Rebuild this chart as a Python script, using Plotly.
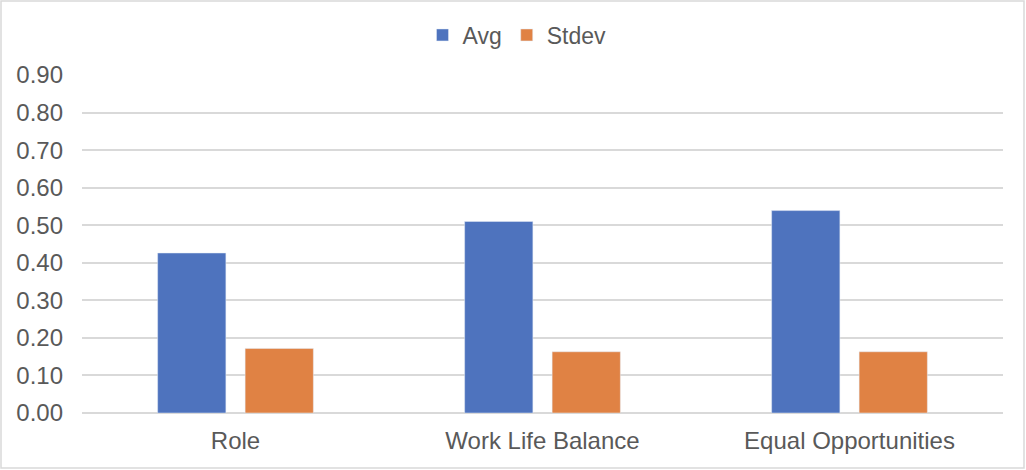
import plotly.graph_objects as go

categories = ["Role", "Work Life Balance", "Equal Opportunities"]
avg_values = [0.426, 0.510, 0.539]
stdev_values = [0.172, 0.163, 0.163]
tick_vals = [0.0, 0.1, 0.2, 0.3, 0.4, 0.5, 0.6, 0.7, 0.8, 0.9]
tick_text = [f"{v:.2f}" for v in tick_vals]

W, H = 1026, 470
ml, mr, mt, mb = 82, 23, 75, 57
pw, ph = W - ml - mr, H - mt - mb

fig = go.Figure()
fig.add_trace(go.Bar(name="Avg", x=categories, y=avg_values, marker_color="#4E73BE"))
fig.add_trace(go.Bar(name="Stdev", x=categories, y=stdev_values, marker_color="#E08244"))

fam = "Liberation Sans, Arial, sans-serif"
font = dict(family=fam, size=24, color="#595959")
lfont = dict(family=fam, size=23, color="#595959")

fig.update_layout(
    width=W, height=H,
    margin=dict(l=ml, r=mr, t=mt, b=mb, autoexpand=False),
    paper_bgcolor="white", plot_bgcolor="white",
    barmode="group", bargap=0.43, bargroupgap=0.22,
    font=font,
    showlegend=True,
    legend=dict(orientation="h", x=(517 - ml) / pw, xanchor="center", y=1.0 + (mt - 35) / ph,
                yanchor="middle", font=lfont, itemwidth=30, traceorder="normal"),
    xaxis=dict(showgrid=False, showline=False, ticks="", tickfont=font, automargin=False,
               ticklabelstandoff=11),
    yaxis=dict(range=[0, 0.9], tickvals=tick_vals, ticktext=tick_text, showgrid=True,
               gridcolor="#D9D9D9", gridwidth=1.5, zeroline=True, zerolinecolor="#D9D9D9",
               zerolinewidth=1.5, showline=False, ticks="", tickfont=font, ticklabelstandoff=18,
               automargin=False),
)

fig.add_shape(type="rect", xref="paper", yref="paper",
              x0=(1 - ml) / pw, x1=(W - 2 - ml) / pw,
              y0=-(H - 2 - mt - ph) / ph, y1=1 + (mt - 1) / ph,
              line=dict(color="#D9D9D9", width=1.5), fillcolor="rgba(0,0,0,0)", layer="below")

fig.write_html("out.html", config={"displayModeBar": False},
               post_script="document.body.style.margin='0';document.body.style.overflow='hidden';")
